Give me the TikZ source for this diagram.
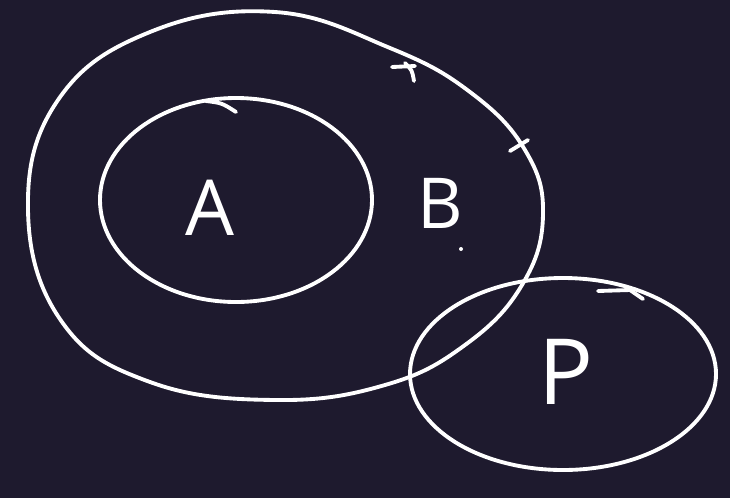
\documentclass[tikz,border=0pt]{standalone}
\usepackage{fontspec}
\setmainfont{Open Sans}
\definecolor{board}{HTML}{1E1A2E}
\begin{document}
\begin{tikzpicture}[
    x=0.02cm, y=-0.02cm,
    ink/.style={draw=white, line width=2.2pt, line cap=round, line join=round},
    lbl/.style={text=white, inner sep=0pt, font=\fontsize{#1}{#1}\selectfont},
    lbl/.default=40pt
]
\fill[board] (0,0) rectangle (730,498);
\useasboundingbox (0,0) rectangle (730,498);

% outer set B
\draw[ink] plot[smooth cycle, tension=0.7] coordinates {
    (275,12) (390,48) (470,92) (525,150) (543,215) (522,285) (465,345)
    (385,385) (275,400) (150,382) (62,322) (28,210) (58,100) (150,32)};
\draw[ink] (392,67) -- (415,66);
\draw[ink] (405,63) .. controls (412,70) .. (414,81);
\draw[ink] (510,151) -- (528,140);

% inner set A
\draw[ink] (236,200) ellipse [x radius=136, y radius=102];
\draw[ink] (206,101) .. controls (222,103) .. (236,112);

% set P
\draw[ink] (563,374) ellipse [x radius=153, y radius=96];
\draw[ink] (598,291) -- (630,290) -- (643,299);

\node[lbl=44pt] (a) at (210,208) {A};
\node[lbl=40pt] (b) at (440,203) {B};
\node[lbl=52pt] (p) at (566,372) {P};
\fill[white] (461,249) circle (2);
\end{tikzpicture}
\end{document}
